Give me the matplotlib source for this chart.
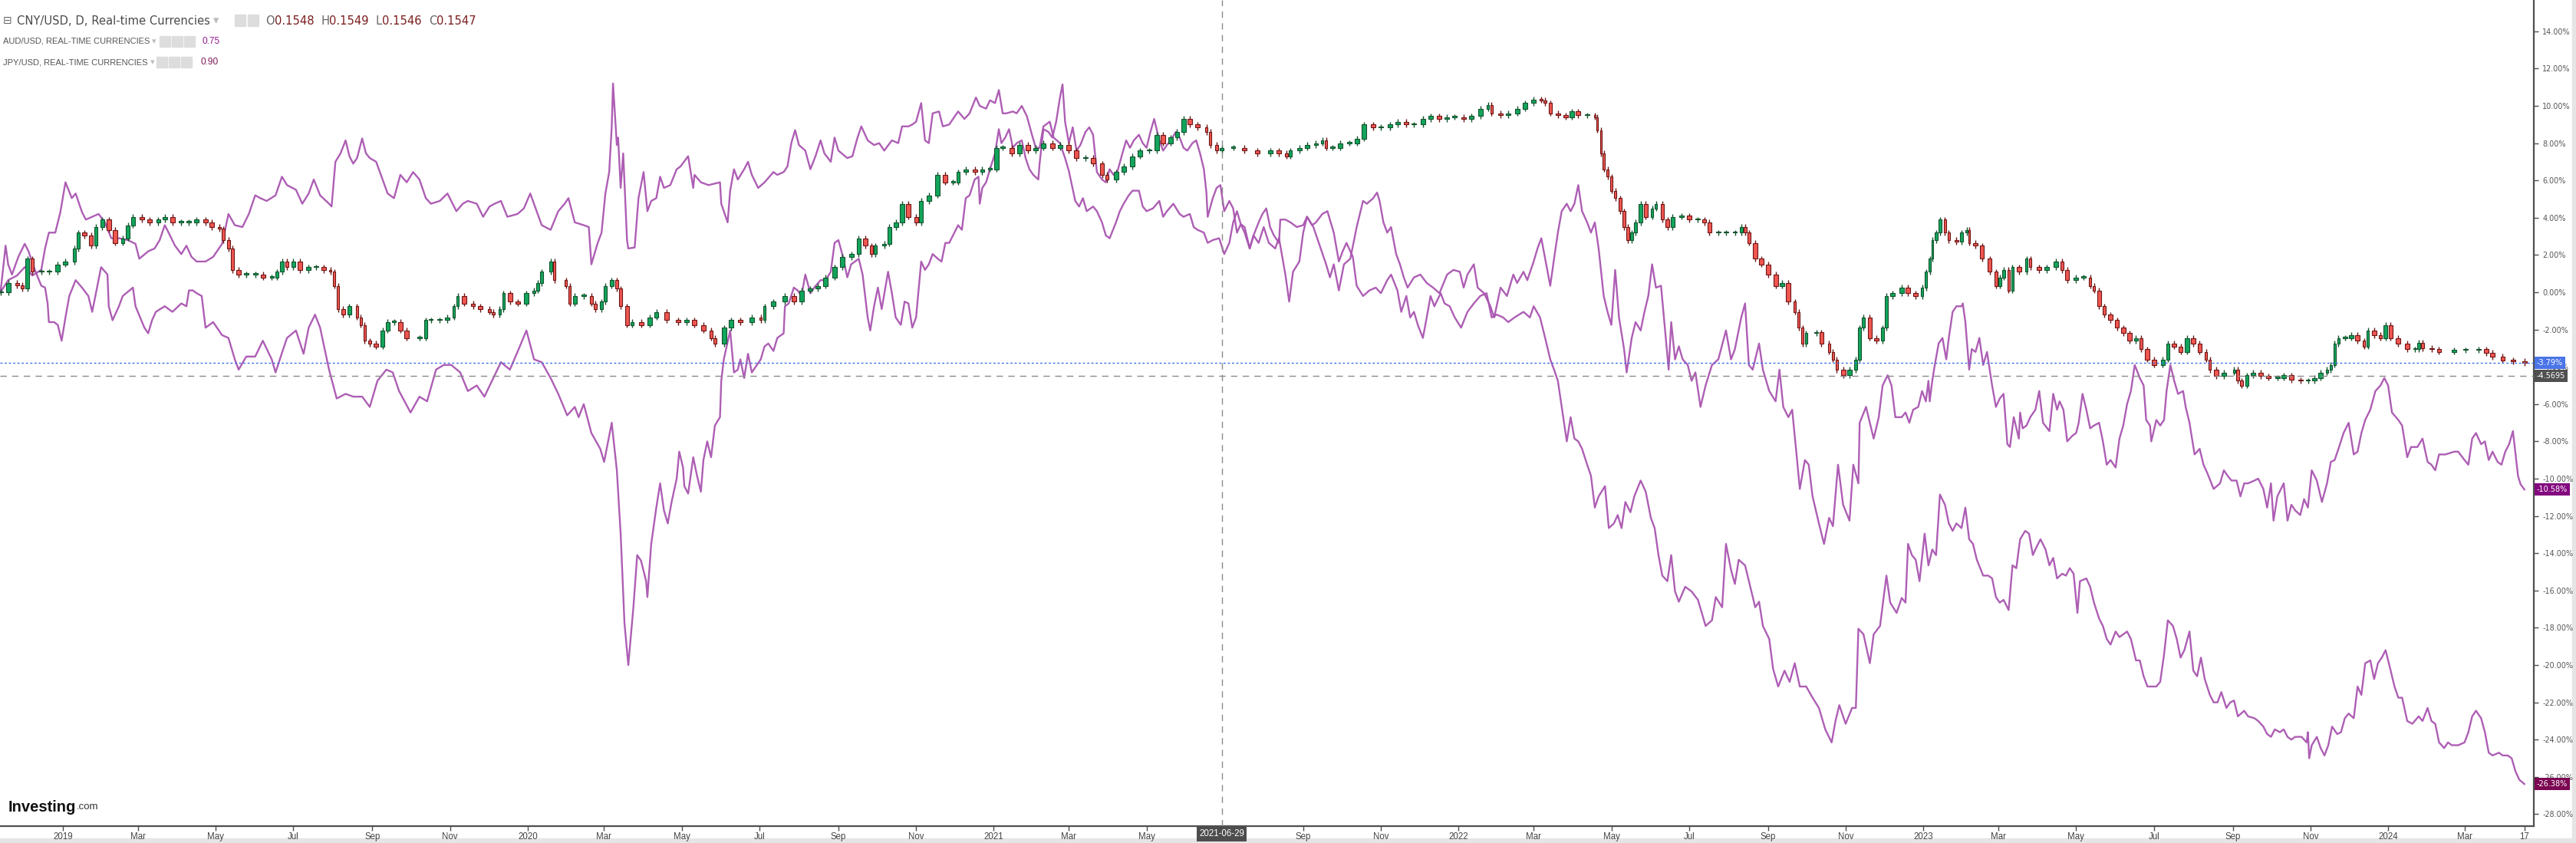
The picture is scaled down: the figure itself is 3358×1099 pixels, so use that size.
import matplotlib
matplotlib.use("Agg")
import matplotlib.pyplot as plt
import matplotlib.transforms as mtransforms
from matplotlib.patches import Rectangle
import numpy as np
import pandas as pd

W, H = 3358, 1099
BASE = pd.Timestamp("2019-01-01")

# % change since first bar, as (days since 2019-01-01, percent)
CNY = [(-49, 0.0), (-43, 0.5), (-36, 0.37), (-32, 0.2), (-28, 1.8), (-24, 1.1), (-17, 1.1), (-11, 1.1), (-4, 1.5),
       (2, 1.65), (9, 2.35), (12, 3.2), (17, 3.05), (22, 2.5), (26, 3.5), (31, 3.9), (36, 3.35), (41, 2.65), (47, 2.9),
       (51, 3.6), (55, 4.05), (62, 3.9), (68, 3.75), (75, 3.9), (80, 4.05), (86, 3.75), (93, 3.75), (99, 3.75),
       (105, 3.9), (112, 3.75), (117, 3.5), (123, 3.4), (126, 2.8), (130, 2.35), (133, 1.2), (138, 0.95), (144, 0.95),
       (151, 0.95), (157, 0.8), (164, 0.8), (168, 1.1), (172, 1.65), (176, 1.35), (181, 1.65), (186, 1.2), (193, 1.35),
       (199, 1.35), (205, 1.2), (210, 1.1), (213, 0.35), (216, -0.9), (220, -1.2), (225, -0.75), (231, -1.35),
       (234, -1.75), (237, -2.6), (241, -2.75), (246, -2.9), (251, -2.05), (255, -1.6), (260, -1.6), (265, -2.05),
       (270, -2.45), (280, -2.45), (285, -1.5), (289, -1.5), (296, -1.5), (302, -1.35), (307, -0.75), (310, -0.2),
       (315, -0.6), (322, -0.75), (328, -0.9), (335, -1.05), (338, -1.2), (343, -0.9), (346, -0.05), (351, -0.5),
       (357, -0.6), (364, -0.05), (370, 0.1), (373, 0.5), (376, 1.1), (383, 1.65), (386, 0.65), (395, 0.35),
       (398, -0.6), (402, -0.2), (409, -0.2), (415, -0.6), (418, -0.9), (423, -0.5), (426, 0.35), (431, 0.65),
       (435, 0.2), (438, -0.75), (443, -1.75), (447, -1.6), (454, -1.75), (461, -1.35), (466, -1.05), (474, -1.5),
       (483, -1.6), (490, -1.5), (496, -1.75), (503, -2.05), (509, -2.45), (512, -2.75), (519, -1.9), (525, -1.5),
       (532, -1.6), (541, -1.35), (548, -1.5), (551, -0.75), (558, -0.5), (567, -0.2), (574, -0.5), (580, 0.1),
       (587, 0.2), (593, 0.35), (599, 0.8), (606, 1.35), (612, 1.9), (619, 2.05), (625, 2.9), (630, 2.5), (635, 2.05),
       (638, 2.5), (645, 2.6), (649, 3.5), (654, 3.75), (659, 4.75), (664, 4.05), (670, 3.75), (674, 4.9), (680, 5.2),
       (687, 6.3), (693, 5.9), (699, 5.9), (703, 6.45), (709, 6.6), (716, 6.45), (722, 6.6), (728, 6.6), (733, 7.75),
       (738, 7.75), (745, 7.45), (751, 7.9), (758, 7.6), (764, 7.75), (770, 8.0), (777, 7.75), (783, 7.9), (790, 7.6),
       (796, 7.2), (803, 7.2), (809, 6.9), (816, 6.3), (820, 6.05), (827, 6.45), (833, 6.75), (840, 7.3), (846, 7.6),
       (853, 7.6), (859, 8.45), (864, 8.0), (870, 8.3), (875, 8.6), (880, 9.3), (885, 9.0), (891, 8.85), (898, 8.6),
       (901, 7.9), (906, 7.6), (910, 7.75), (919, 7.75), (928, 7.6), (938, 7.45), (948, 7.6), (955, 7.45), (961, 7.3),
       (964, 7.6), (971, 7.75), (977, 7.9), (984, 8.0), (989, 8.15), (992, 7.75), (997, 7.75), (1003, 8.0),
       (1010, 8.0), (1016, 8.25), (1022, 9.0), (1029, 8.85), (1035, 8.85), (1042, 9.0), (1048, 9.15), (1055, 9.0),
       (1061, 9.0), (1068, 9.3), (1074, 9.45), (1081, 9.3), (1087, 9.4), (1093, 9.4), (1100, 9.3), (1106, 9.45),
       (1113, 9.85), (1119, 10.05), (1122, 9.6), (1129, 9.5), (1135, 9.6), (1142, 9.85), (1148, 10.15), (1155, 10.35),
       (1161, 10.3), (1164, 10.15), (1168, 9.6), (1174, 9.5), (1180, 9.4), (1185, 9.7), (1190, 9.5), (1197, 9.5),
       (1203, 9.4), (1205, 8.7), (1208, 7.45), (1210, 6.6), (1213, 6.2), (1216, 5.45), (1219, 5.05), (1223, 4.35),
       (1226, 3.5), (1229, 2.8), (1232, 3.2), (1235, 3.75), (1239, 4.75), (1243, 4.05), (1248, 4.5), (1251, 4.75),
       (1256, 3.9), (1260, 3.5), (1264, 4.05), (1271, 4.1), (1277, 3.9), (1284, 3.9), (1289, 3.75), (1293, 3.2),
       (1300, 3.2), (1306, 3.2), (1313, 3.2), (1318, 3.5), (1321, 3.2), (1324, 2.65), (1329, 1.8), (1334, 1.5),
       (1339, 0.95), (1345, 0.35), (1350, 0.5), (1355, -0.5), (1360, -1.05), (1363, -1.9), (1366, -2.75),
       (1369, -2.2), (1377, -2.15), (1381, -2.75), (1387, -3.2), (1390, -3.6), (1393, -4.15), (1398, -4.45),
       (1403, -4.15), (1408, -3.6), (1411, -1.9), (1414, -1.35), (1419, -2.45), (1424, -2.6), (1429, -1.9),
       (1432, -0.2), (1437, -0.05), (1444, 0.25), (1449, -0.05), (1455, -0.2), (1460, 0.25), (1463, 1.1), (1466, 1.8),
       (1468, 2.8), (1471, 3.2), (1474, 3.9), (1478, 3.2), (1481, 2.8), (1487, 2.7), (1491, 3.2), (1495, 3.35),
       (1497, 2.65), (1502, 2.5), (1507, 1.8), (1513, 1.1), (1518, 0.35), (1521, 0.8), (1524, 1.2), (1528, 0.1),
       (1531, 1.35), (1536, 1.1), (1542, 1.8), (1545, 1.35), (1552, 1.2), (1558, 1.35), (1565, 1.65), (1570, 1.2),
       (1574, 0.65), (1581, 0.8), (1587, 0.8), (1592, 0.35), (1595, 0.1), (1599, -0.75), (1603, -1.2), (1608, -1.5),
       (1613, -1.9), (1618, -2.2), (1623, -2.6), (1628, -2.45), (1632, -3.05), (1637, -3.6), (1642, -3.9),
       (1649, -3.6), (1653, -2.75), (1658, -2.9), (1663, -3.2), (1668, -2.45), (1673, -2.75), (1678, -3.2),
       (1683, -3.6), (1686, -4.15), (1691, -4.5), (1697, -4.3), (1705, -4.15), (1708, -4.75), (1711, -5.0),
       (1715, -4.45), (1720, -4.3), (1726, -4.5), (1732, -4.6), (1739, -4.6), (1744, -4.45), (1750, -4.7),
       (1757, -4.75), (1763, -4.75), (1768, -4.6), (1773, -4.3), (1778, -4.15), (1781, -3.9), (1784, -2.75),
       (1787, -2.45), (1792, -2.45), (1797, -2.3), (1802, -2.6), (1807, -2.9), (1810, -2.05), (1815, -2.3),
       (1820, -2.45), (1824, -1.75), (1828, -2.45), (1834, -2.75), (1841, -3.05), (1847, -3.05), (1850, -2.7),
       (1853, -3.0), (1860, -3.05), (1866, -3.2), (1878, -3.1), (1887, -3.1), (1897, -3.05), (1903, -3.25),
       (1908, -3.45), (1916, -3.65), (1924, -3.7), (1933, -3.79)]

AUD = [(-49, 0.0), (-45, 2.5), (-43, 1.5), (-40, 0.95), (-35, 1.9), (-30, 2.6), (-27, 2.2), (-22, 1.2), (-17, 0.35),
       (-14, 0.25), (-12, -0.6), (-11, -1.6), (-7, -1.6), (-4, -1.75), (-1, -2.6), (2, -1.35), (5, -0.2), (10, 0.65),
       (15, 0.25), (20, -0.2), (23, -1.05), (30, 1.35), (35, 0.95), (36, -0.75), (39, -1.5), (44, -0.75), (47, -0.2),
       (55, 0.25), (57, -0.75), (64, -1.9), (67, -2.2), (70, -1.5), (73, -1.05), (80, -0.75), (86, -1.05), (93, -0.6),
       (97, -0.75), (99, 0.1), (102, 0.1), (105, -0.05), (109, -0.2), (112, -1.9), (118, -1.6), (125, -2.3),
       (130, -2.45), (135, -3.6), (138, -4.15), (144, -3.45), (151, -3.45), (157, -2.6), (164, -3.6), (167, -4.3),
       (173, -3.05), (176, -2.45), (183, -2.05), (189, -3.3), (193, -1.9), (198, -1.2), (202, -1.9), (209, -4.15),
       (215, -5.7), (222, -5.45), (228, -5.6), (235, -5.6), (241, -6.15), (247, -4.75), (254, -4.15), (259, -4.3),
       (264, -5.3), (273, -6.45), (280, -5.6), (286, -5.85), (293, -4.15), (299, -3.9), (305, -3.9), (312, -4.3),
       (318, -5.3), (325, -5.0), (331, -5.6), (338, -4.6), (344, -3.75), (351, -4.15), (357, -3.2), (364, -2.05),
       (370, -3.6), (376, -3.75), (383, -4.6), (389, -5.45), (396, -6.6), (402, -6.15), (405, -6.7), (409, -6.0),
       (415, -7.55), (422, -8.4), (425, -9.1), (431, -7.0), (435, -9.55), (438, -12.95), (441, -17.75), (444, -20.0),
       (448, -16.9), (451, -14.1), (454, -14.4), (458, -15.5), (459, -16.35), (462, -13.5), (466, -11.55),
       (469, -10.25), (472, -11.7), (475, -12.4), (478, -11.25), (482, -10.0), (484, -8.55), (487, -9.4), (488, -10.4),
       (491, -10.8), (495, -8.85), (498, -9.85), (501, -10.7), (503, -9.0), (506, -8.0), (509, -8.85), (512, -7.15),
       (516, -6.7), (517, -4.75), (519, -3.6), (524, -2.05), (527, -4.3), (530, -4.15), (532, -3.6), (535, -4.6),
       (538, -3.3), (541, -4.3), (548, -3.6), (551, -2.9), (554, -2.75), (558, -3.15), (561, -2.45), (566, -2.2),
       (567, -0.75), (570, -0.6), (574, 0.25), (577, 0.1), (580, -0.2), (583, 0.95), (587, -0.05), (590, 0.25),
       (595, 0.65), (599, 0.65), (603, 1.1), (606, 2.65), (609, 2.8), (612, 2.05), (616, 0.8), (619, 1.5), (622, 1.65),
       (625, 1.8), (628, 0.95), (632, -1.35), (634, -2.05), (637, -0.75), (640, 0.25), (643, -0.9), (648, 1.1),
       (651, -0.05), (654, -1.35), (658, -1.75), (661, -0.5), (664, -0.6), (667, -1.9), (670, -1.35), (674, 1.65),
       (677, 1.2), (680, 1.5), (683, 2.05), (687, 1.8), (690, 1.65), (693, 2.65), (696, 2.65), (699, 3.05), (703, 3.6),
       (706, 3.35), (709, 5.05), (712, 5.2), (716, 6.05), (719, 6.2), (720, 4.75), (722, 5.6), (725, 5.9), (728, 6.6),
       (732, 7.45), (735, 8.75), (737, 8.0), (740, 8.3), (743, 8.75), (746, 7.75), (749, 8.0), (753, 8.15), (756, 7.2),
       (759, 6.6), (762, 6.3), (766, 6.05), (767, 6.9), (770, 8.75), (774, 8.6), (777, 8.3), (780, 9.15), (783, 10.45),
       (785, 11.15), (787, 9.15), (790, 8.0), (793, 8.85), (796, 7.6), (799, 7.9), (803, 8.6), (806, 8.85), (809, 8.45),
       (812, 6.45), (816, 6.05), (819, 5.9), (822, 6.6), (825, 6.3), (828, 6.45), (832, 7.45), (835, 8.15), (838, 7.75),
       (841, 8.15), (845, 8.45), (848, 8.0), (851, 7.75), (854, 8.6), (857, 9.3), (861, 8.15), (864, 7.6), (867, 7.9),
       (870, 8.15), (874, 8.6), (877, 8.3), (880, 7.75), (883, 7.6), (887, 8.0), (890, 8.15), (893, 7.45), (896, 6.6),
       (898, 5.35), (899, 4.05), (903, 5.05), (906, 5.6), (909, 5.75), (912, 4.35), (916, 4.9), (919, 4.5), (922, 3.2),
       (925, 3.65), (928, 3.2), (932, 2.35), (935, 3.05), (939, 2.65), (943, 3.5), (947, 2.65), (952, 2.35), (955, 2.9),
       (960, 0.95), (963, -0.5), (966, 1.1), (971, 1.65), (974, 3.2), (977, 4.05), (982, 3.5), (987, 2.5), (992, 1.5),
       (995, 0.8), (998, 1.5), (1002, 0.1), (1006, 1.5), (1011, 1.8), (1016, 3.5), (1021, 4.9), (1024, 4.75),
       (1029, 5.05), (1032, 5.35), (1034, 4.9), (1037, 3.75), (1040, 3.2), (1043, 3.5), (1047, 2.05), (1050, 1.5),
       (1053, 0.8), (1056, 0.25), (1061, 0.8), (1066, 0.95), (1071, 0.5), (1076, 0.25), (1081, -0.05), (1087, 0.95),
       (1092, 1.2), (1097, 1.1), (1100, 0.25), (1103, 0.95), (1108, 1.5), (1111, 0.25), (1116, -0.05), (1121, -0.75),
       (1124, -1.35), (1129, 0.25), (1134, -0.2), (1139, 0.95), (1142, 0.5), (1147, 1.1), (1150, 0.65), (1155, 1.65),
       (1158, 2.35), (1161, 2.9), (1164, 1.8), (1168, 0.35), (1171, 1.8), (1174, 3.2), (1177, 4.35), (1181, 4.75),
       (1184, 4.35), (1187, 4.75), (1190, 5.75), (1193, 4.35), (1197, 3.75), (1200, 3.2), (1203, 3.75), (1206, 2.35),
       (1210, -0.2), (1213, -1.05), (1216, -1.75), (1219, 1.2), (1222, -1.35), (1226, -3.05), (1228, -4.3),
       (1232, -2.45), (1235, -1.6), (1239, -2.05), (1242, -1.05), (1245, -0.2), (1248, 1.5), (1251, 0.25),
       (1255, 0.35), (1258, -1.9), (1261, -4.15), (1263, -1.6), (1266, -3.6), (1269, -2.9), (1272, -3.6),
       (1276, -3.9), (1279, -4.75), (1282, -4.3), (1286, -6.15), (1290, -5.0), (1295, -3.9), (1300, -3.6),
       (1306, -2.05), (1310, -3.6), (1313, -3.05), (1318, -1.35), (1321, -0.6), (1324, -3.9), (1327, -4.15),
       (1332, -2.75), (1335, -4.15), (1340, -5.3), (1345, -5.85), (1348, -4.15), (1351, -6.15), (1355, -6.7),
       (1358, -6.3), (1361, -8.4), (1364, -10.55), (1368, -9.0), (1371, -9.25), (1374, -10.95), (1379, -12.4),
       (1383, -13.5), (1387, -12.1), (1390, -12.55), (1394, -9.25), (1398, -11.4), (1403, -12.25), (1406, -9.25),
       (1410, -10.25), (1411, -7.0), (1416, -6.15), (1419, -7.0), (1422, -7.85), (1426, -6.7), (1429, -5.0),
       (1433, -4.45), (1436, -5.0), (1439, -6.7), (1444, -6.7), (1447, -6.45), (1450, -7.0), (1453, -6.3),
       (1457, -6.15), (1460, -5.3), (1463, -5.85), (1465, -4.75), (1466, -5.85), (1468, -4.75), (1470, -3.9),
       (1473, -2.75), (1476, -2.45), (1479, -3.6), (1481, -2.45), (1484, -1.05), (1487, -0.75), (1491, -0.75),
       (1492, -0.6), (1494, -1.6), (1497, -4.15), (1499, -3.05), (1502, -3.2), (1505, -2.45), (1508, -3.9),
       (1511, -3.2), (1515, -5.0), (1518, -6.15), (1521, -5.7), (1524, -5.45), (1527, -8.15), (1529, -8.3),
       (1532, -6.7), (1536, -7.85), (1537, -6.45), (1539, -7.3), (1542, -7.15), (1545, -6.7), (1549, -6.3),
       (1552, -5.3), (1555, -7.0), (1560, -7.45), (1563, -5.45), (1566, -6.3), (1568, -5.85), (1571, -6.3),
       (1574, -8.0), (1578, -7.7), (1581, -7.55), (1583, -7.0), (1586, -5.45), (1589, -6.3), (1592, -7.3),
       (1595, -7.15), (1599, -7.0), (1602, -8.0), (1605, -9.25), (1608, -9.0), (1612, -9.4), (1615, -7.85),
       (1618, -7.15), (1621, -6.0), (1624, -5.3), (1627, -3.9), (1631, -4.6), (1634, -5.0), (1636, -6.85),
       (1639, -7.15), (1640, -8.0), (1644, -6.85), (1647, -7.15), (1650, -6.85), (1652, -5.3), (1655, -3.9),
       (1658, -4.75), (1661, -5.45), (1665, -5.3), (1667, -6.15), (1670, -7.0), (1674, -8.7), (1678, -8.4),
       (1681, -9.25), (1684, -9.7), (1689, -10.55), (1694, -10.25), (1697, -9.55), (1700, -9.85), (1703, -10.1),
       (1707, -10.1), (1710, -10.95), (1713, -10.25), (1716, -10.25), (1721, -10.1), (1724, -10.0), (1728, -10.55),
       (1731, -11.55), (1734, -10.25), (1736, -12.25), (1739, -10.95), (1744, -10.25), (1747, -12.25), (1750, -11.4),
       (1753, -11.7), (1757, -11.95), (1760, -11.1), (1763, -11.55), (1766, -9.55), (1770, -10.1), (1774, -11.25),
       (1778, -10.25), (1781, -9.1), (1784, -9.0), (1787, -8.4), (1791, -7.55), (1795, -7.0), (1799, -8.7),
       (1802, -8.55), (1805, -7.55), (1808, -6.85), (1812, -6.3), (1816, -5.3), (1820, -5.0), (1823, -4.6),
       (1826, -5.0), (1829, -6.45), (1834, -6.85), (1837, -7.15), (1841, -8.85), (1844, -8.3), (1849, -8.3),
       (1853, -7.85), (1857, -9.1), (1860, -9.25), (1863, -9.55), (1866, -8.7), (1871, -8.7), (1878, -8.55),
       (1881, -8.55), (1886, -9.0), (1889, -9.25), (1892, -7.85), (1895, -7.55), (1899, -8.15), (1902, -8.0),
       (1905, -9.0), (1908, -8.55), (1912, -9.1), (1915, -9.25), (1918, -8.55), (1921, -8.15), (1924, -7.45),
       (1928, -9.85), (1930, -10.3), (1933, -10.58)]

JPY = [(-49, 0.0), (-43, 0.65), (-36, 0.9), (-30, 1.35), (-24, 0.9), (-17, 1.2), (-14, 2.35), (-11, 3.2), (-6, 3.2),
       (-2, 4.3), (2, 5.9), (7, 5.05), (10, 5.3), (15, 4.3), (18, 3.9), (23, 4.05), (28, 4.2), (33, 3.75), (38, 2.9),
       (44, 2.9), (51, 2.8), (57, 2.6), (60, 1.8), (67, 2.2), (72, 2.35), (76, 2.8), (80, 3.6), (83, 3.2), (88, 2.5),
       (93, 2.05), (97, 2.5), (101, 1.9), (105, 1.65), (112, 1.65), (118, 1.9), (125, 2.6), (130, 4.2), (135, 3.6),
       (141, 3.5), (146, 4.2), (151, 5.2), (155, 5.05), (160, 4.9), (167, 5.2), (172, 6.2), (176, 5.75), (183, 5.5),
       (188, 4.75), (193, 5.3), (197, 6.05), (202, 5.2), (209, 4.75), (211, 4.6), (214, 7.0), (218, 7.45), (222, 8.15),
       (225, 7.3), (228, 6.9), (231, 7.2), (235, 8.25), (238, 7.45), (241, 7.2), (246, 7.0), (251, 6.05), (255, 5.3),
       (260, 5.05), (265, 6.3), (270, 5.9), (275, 6.45), (280, 6.05), (285, 5.05), (289, 4.75), (296, 4.9), (302, 5.3),
       (309, 4.35), (314, 4.75), (318, 4.9), (325, 4.75), (330, 4.05), (335, 4.6), (339, 4.75), (344, 4.9), (349, 4.05),
       (357, 4.2), (362, 4.5), (367, 5.3), (372, 4.35), (376, 3.6), (383, 3.35), (389, 4.35), (394, 4.75), (397, 5.05),
       (402, 3.75), (409, 3.6), (413, 3.5), (415, 1.5), (420, 2.65), (423, 3.2), (426, 5.3), (429, 6.45), (431, 8.9),
       (432, 11.2), (435, 7.9), (436, 8.3), (438, 5.6), (440, 7.45), (443, 2.8), (444, 2.35), (449, 2.4), (452, 5.05),
       (456, 6.45), (459, 4.35), (462, 4.9), (466, 5.05), (469, 6.2), (472, 5.6), (477, 5.75), (482, 6.6), (485, 6.75),
       (491, 7.3), (495, 5.6), (496, 6.3), (501, 5.9), (507, 5.75), (516, 5.9), (517, 4.75), (522, 3.75), (524, 5.45),
       (527, 6.6), (530, 6.05), (535, 6.6), (538, 7.0), (541, 6.3), (546, 5.6), (551, 5.9), (558, 6.45), (561, 6.3),
       (566, 6.45), (569, 6.75), (572, 8.0), (575, 8.7), (578, 7.9), (583, 7.6), (587, 6.6), (591, 7.3), (595, 8.15),
       (598, 7.45), (603, 7.0), (606, 8.3), (609, 7.6), (616, 7.2), (620, 7.3), (624, 8.3), (627, 8.9), (632, 8.15),
       (637, 7.9), (641, 8.0), (645, 7.6), (651, 8.15), (656, 8.0), (659, 8.9), (664, 8.9), (667, 9.0), (670, 9.15),
       (674, 10.15), (677, 8.15), (680, 8.0), (683, 9.6), (688, 9.7), (691, 8.9), (696, 9.0), (699, 9.3), (703, 9.7),
       (708, 9.3), (712, 9.6), (717, 10.45), (720, 10.0), (725, 9.85), (728, 10.3), (732, 10.15), (735, 10.85),
       (738, 9.6), (741, 9.6), (746, 9.7), (749, 9.6), (753, 10.0), (757, 9.45), (761, 8.45), (764, 7.75), (767, 7.75),
       (770, 8.9), (775, 9.15), (778, 8.3), (783, 8.0), (787, 7.2), (790, 6.5), (795, 4.9), (798, 4.6), (801, 5.05),
       (804, 4.35), (809, 4.6), (812, 4.35), (816, 3.75), (819, 3.05), (822, 2.9), (827, 3.75), (830, 4.35),
       (833, 4.75), (837, 5.2), (840, 5.45), (845, 5.45), (848, 4.6), (851, 4.35), (856, 4.5), (861, 4.9), (864, 4.05),
       (867, 4.35), (872, 4.75), (877, 4.2), (880, 4.05), (885, 4.2), (888, 3.5), (891, 3.35), (896, 3.2), (899, 2.65),
       (903, 2.8), (908, 2.9), (912, 2.05), (916, 2.65), (919, 3.75), (922, 4.35), (925, 3.65), (928, 3.5), (932, 2.35),
       (935, 3.05), (939, 3.75), (942, 4.2), (945, 4.5), (948, 3.5), (951, 3.05), (955, 2.65), (956, 3.9), (960, 3.9),
       (964, 3.75), (969, 3.5), (974, 3.6), (977, 4.05), (981, 3.6), (984, 3.75), (989, 4.2), (993, 4.35), (998, 3.2),
       (1002, 1.65), (1005, 2.2), (1008, 2.65), (1010, 2.35), (1013, 1.9), (1016, 0.35), (1021, -0.2), (1026, 0.1),
       (1031, 0.25), (1035, -0.05), (1040, 0.65), (1043, 0.95), (1048, 0.1), (1051, -1.05), (1055, -0.2),
       (1058, -1.35), (1061, -1.05), (1064, -1.75), (1068, -2.45), (1071, -1.35), (1074, -0.2), (1077, -0.75),
       (1082, -0.05), (1085, -0.6), (1089, -0.75), (1093, -1.35), (1098, -1.9), (1103, -1.05), (1108, -0.6),
       (1113, -0.2), (1118, -0.05), (1122, -1.35), (1126, -1.2), (1131, -1.35), (1135, -1.6), (1140, -1.35),
       (1147, -1.05), (1152, -1.35), (1155, -0.75), (1160, -1.35), (1164, -2.45), (1168, -3.6), (1171, -4.15),
       (1174, -4.75), (1177, -6.15), (1181, -8.0), (1184, -6.7), (1187, -7.85), (1190, -8.0), (1193, -8.4),
       (1197, -9.25), (1200, -9.85), (1203, -11.55), (1206, -10.95), (1211, -10.4), (1214, -12.65), (1218, -12.4),
       (1221, -11.95), (1224, -12.65), (1227, -11.25), (1231, -11.8), (1234, -10.95), (1239, -10.1), (1243, -10.7),
       (1247, -12.1), (1250, -12.65), (1253, -14.1), (1256, -15.2), (1260, -15.5), (1263, -14.1), (1266, -16.05),
       (1269, -16.6), (1274, -15.8), (1279, -16.05), (1284, -16.5), (1287, -17.2), (1290, -17.9), (1295, -17.6),
       (1298, -16.35), (1303, -16.9), (1306, -13.5), (1310, -14.9), (1313, -15.65), (1316, -14.35), (1321, -14.65),
       (1326, -16.05), (1329, -16.9), (1332, -16.6), (1335, -17.9), (1340, -18.6), (1343, -20.2), (1347, -21.15),
       (1352, -20.3), (1356, -20.9), (1360, -19.9), (1364, -21.15), (1369, -21.15), (1374, -21.75), (1379, -22.3),
       (1384, -23.45), (1389, -24.15), (1392, -23.0), (1395, -22.15), (1400, -23.15), (1405, -22.3), (1408, -22.3),
       (1410, -18.05), (1414, -18.35), (1419, -19.9), (1422, -18.35), (1427, -17.9), (1432, -15.2), (1435, -16.65),
       (1440, -17.2), (1444, -16.4), (1447, -16.65), (1449, -13.5), (1452, -14.1), (1455, -14.35), (1458, -15.5),
       (1462, -12.95), (1465, -14.65), (1468, -13.8), (1471, -14.1), (1474, -10.85), (1478, -11.4), (1481, -12.4),
       (1484, -12.8), (1487, -12.4), (1491, -12.65), (1494, -11.55), (1497, -13.25), (1500, -13.5), (1503, -14.35),
       (1508, -15.2), (1512, -15.2), (1515, -15.35), (1518, -16.35), (1521, -16.65), (1524, -16.5), (1528, -17.05),
       (1531, -14.65), (1534, -14.8), (1537, -13.25), (1541, -12.8), (1544, -12.95), (1547, -14.1), (1550, -13.65),
       (1553, -13.25), (1557, -13.8), (1560, -14.65), (1563, -14.25), (1566, -15.35), (1570, -15.1), (1573, -15.2),
       (1576, -14.8), (1579, -15.1), (1582, -17.2), (1584, -15.5), (1589, -15.35), (1592, -15.8), (1595, -16.65),
       (1599, -17.5), (1602, -17.9), (1605, -18.6), (1608, -18.9), (1612, -18.2), (1615, -18.5), (1618, -18.35),
       (1621, -18.2), (1624, -18.6), (1628, -19.75), (1631, -19.75), (1634, -20.6), (1637, -21.15), (1641, -21.15),
       (1644, -21.15), (1647, -20.9), (1650, -19.45), (1653, -17.6), (1657, -17.9), (1660, -18.6), (1663, -19.6),
       (1666, -19.2), (1670, -18.2), (1673, -20.3), (1676, -20.6), (1679, -19.6), (1682, -20.75), (1686, -21.6),
       (1689, -22.0), (1692, -22.0), (1695, -21.45), (1699, -22.3), (1702, -22.0), (1705, -21.9), (1708, -22.75),
       (1713, -22.45), (1716, -22.75), (1721, -22.85), (1724, -23.0), (1728, -23.3), (1731, -23.7), (1734, -23.85),
       (1737, -23.45), (1741, -23.6), (1744, -23.45), (1747, -23.85), (1750, -24.0), (1753, -23.85), (1758, -23.85),
       (1762, -24.15), (1763, -23.6), (1764, -25.0), (1766, -24.3), (1770, -23.85), (1773, -24.45), (1776, -24.85),
       (1779, -24.3), (1782, -23.3), (1786, -23.7), (1789, -23.6), (1792, -22.85), (1795, -22.6), (1799, -22.85),
       (1802, -21.15), (1805, -21.6), (1808, -19.9), (1812, -19.75), (1815, -20.75), (1818, -19.9), (1821, -19.6),
       (1824, -19.2), (1828, -20.3), (1831, -21.15), (1834, -21.75), (1837, -21.75), (1841, -23.0), (1845, -23.15),
       (1850, -22.75), (1853, -23.0), (1857, -22.3), (1860, -23.0), (1863, -23.15), (1866, -24.15), (1870, -24.45),
       (1873, -24.15), (1876, -24.3), (1881, -24.3), (1886, -24.15), (1889, -23.6), (1892, -22.75), (1895, -22.45),
       (1899, -22.85), (1902, -23.6), (1905, -24.7), (1908, -24.85), (1913, -24.7), (1916, -24.85), (1920, -24.85),
       (1923, -25.0), (1926, -25.7), (1929, -26.15), (1933, -26.38)]

X_TICK_DATES = ["2019-01-01", "2019-03-01", "2019-05-01", "2019-07-01", "2019-09-01", "2019-11-01",
                "2020-01-01", "2020-03-01", "2020-05-01", "2020-07-01", "2020-09-01", "2020-11-01",
                "2021-01-01", "2021-03-01", "2021-05-01", "2021-09-01", "2021-11-01",
                "2022-01-01", "2022-03-01", "2022-05-01", "2022-07-01", "2022-09-01", "2022-11-01",
                "2023-01-01", "2023-03-01", "2023-05-01", "2023-07-01", "2023-09-01", "2023-11-01",
                "2024-01-01", "2024-03-01", "2024-04-17"]
X_TICK_LABELS = ["2019", "Mar", "May", "Jul", "Sep", "Nov", "2020", "Mar", "May", "Jul", "Sep", "Nov",
                 "2021", "Mar", "May", "Sep", "Nov", "2022", "Mar", "May", "Jul", "Sep", "Nov",
                 "2023", "Mar", "May", "Jul", "Sep", "Nov", "2024", "Mar", "17"]
Y_TICKS = list(range(-28, 15, 2))

CROSS_DATE = "2021-06-29"
CROSS_Y = -4.49
CROSS_Y_LABEL = "-4.5695"

UP, UP_EDGE = "#12a55c", "#14532d"
DOWN, DOWN_EDGE = "#f05650", "#6e1515"
PURPLE = "#a955b0"
AXIS_GREY = "#4f4f4f"
NARROW = ["Liberation Sans Narrow", "Liberation Sans", "DejaVu Sans"]

plt.rcParams["axes.unicode_minus"] = False


def to_days(s):
    return (pd.Timestamp(s) - BASE).days


fig = plt.figure(figsize=(W / 100, H / 100), dpi=100)
ax = fig.add_axes([0, 22 / H, 3303 / W, 1 - 22 / H])
ax.set_xlim(-49.4, 1940.4)
ax.set_ylim(-28.64, 15.68)

# purple comparison lines
for series in (AUD, JPY):
    d = [p[0] for p in series]
    v = [p[1] for p in series]
    ax.plot(d, v, color=PURPLE, lw=1.7, alpha=0.95, zorder=2, solid_joinstyle="round")

# CNY candles (open = previous close)
cd = np.array([p[0] for p in CNY], dtype=float)
cc = np.array([p[1] for p in CNY])
co = np.r_[cc[0], cc[:-1]]
gaps = np.diff(cd)
width = np.minimum(np.minimum(np.r_[gaps[0], gaps], np.r_[gaps, gaps[-1]]) * 0.7, 3.6)
up = cc >= co
lo = np.minimum(co, cc)
hi = np.maximum(co, cc)
body = np.maximum(hi - lo, 0.06)
edge = np.where(up, UP_EDGE, DOWN_EDGE)
ax.vlines(cd, lo - 0.15, hi + 0.15, colors=edge, lw=1.0, zorder=3)
ax.bar(cd, body, bottom=lo, width=width, color=np.where(up, UP, DOWN), edgecolor=edge, lw=0.8, zorder=4)

# price line of last CNY value and crosshair
ax.axhline(CNY[-1][1], color="#3b6fe6", lw=1.0, ls=(0, (2, 2)), zorder=5)
ax.axhline(CROSS_Y, color="#8a8a8a", lw=1.0, ls=(0, (6, 5)), zorder=5)
ax.axvline(to_days(CROSS_DATE), color="#8a8a8a", lw=1.0, ls=(0, (6, 5)), zorder=5)

# axes styling
for s in ("top", "left"):
    ax.spines[s].set_visible(False)
for s in ("right", "bottom"):
    ax.spines[s].set_color(AXIS_GREY)
    ax.spines[s].set_linewidth(1.6)
ax.yaxis.tick_right()
ax.set_yticks(Y_TICKS)
ax.set_yticklabels([f"{v:.2f}%" for v in Y_TICKS])
ax.tick_params(axis="y", length=4, width=1, color=AXIS_GREY, labelsize=6.9, labelcolor="#555555", pad=4)
ax.set_xticks([to_days(s) for s in X_TICK_DATES])
ax.set_xticklabels(X_TICK_LABELS, fontfamily=NARROW)
ax.tick_params(axis="x", length=4, width=1, color=AXIS_GREY, labelsize=8.3, labelcolor="#444444", pad=2)

# value boxes on the right axis
ytr = mtransforms.blended_transform_factory(ax.transAxes, ax.transData)
boxes = [(CNY[-1][1], f"{CNY[-1][1]:.2f}%", "#4a74e8"), (CROSS_Y, CROSS_Y_LABEL, "#505050"),
         (AUD[-1][1], f"{AUD[-1][1]:.2f}%", "#84087f"), (JPY[-1][1], f"{JPY[-1][1]:.2f}%", "#7c0752")]
for yv, label, face in boxes:
    ax.text(1.0 + 4 / 3303, yv, label, transform=ytr, ha="left", va="center", color="white", fontsize=7,
            bbox=dict(boxstyle="square,pad=0.28", fc=face, ec="none"), clip_on=False, zorder=10)

xtr = mtransforms.blended_transform_factory(ax.transData, ax.transAxes)
ax.text(to_days(CROSS_DATE), -0.004, CROSS_DATE, transform=xtr, ha="center", va="top", color="white",
        fontsize=8.3, fontfamily=NARROW,
        bbox=dict(boxstyle="square,pad=0.3", fc="#4d4d4d", ec="none"), clip_on=False, zorder=10)

# bottom / right grey bands
fig.add_artist(Rectangle((0, 0), 1, 6 / H, transform=fig.transFigure, color="#e5e5e5", zorder=0))
fig.add_artist(Rectangle((3353 / W, 0), 5 / W, 1, transform=fig.transFigure, color="#e5e5e5", zorder=0))


def fy(px):
    return 1 - px / H


def chain(first, parts, size, family, y, weight="normal"):
    t = fig.text(first[1] / W, fy(y), first[0], color=first[2], fontsize=size, fontfamily=family,
                 va="center", fontweight=weight)
    for txt, col, gap, sz in parts:
        t = ax.annotate(txt, xy=(1, 0.5), xycoords=t, xytext=(gap, 0), textcoords="offset pixels",
                        color=col, fontsize=sz, fontfamily=family, va="center", ha="left",
                        annotation_clip=False)
    return t


# legend header
fig.text(4 / W, fy(27), "⊟", fontsize=10, color="#666666", va="center")
chain(("CNY/USD, D, Real-time Currencies", 22, "#4a4a4a"), [("▾", "#bbbbbb", 4, 10.6)], 10.6, "DejaVu Sans", 27)
for x0 in (306, 323):
    fig.add_artist(Rectangle((x0 / W, fy(34)), 14 / W, 15 / H, transform=fig.transFigure, color="#dddddd"))
chain(("O", 346, "#666666"), [("0.1548", "#7a1d1d", 0, 10.6), ("H", "#666666", 9, 10.6),
                              ("0.1549", "#7a1d1d", 0, 10.6), ("L", "#666666", 9, 10.6),
                              ("0.1546", "#7a1d1d", 0, 10.6), ("C", "#666666", 9, 10.6),
                              ("0.1547", "#7a1d1d", 0, 10.6)], 10.6, "DejaVu Sans", 27)

for y, name, val, vcol, xs, vx in [(54, "AUD/USD, REAL-TIME CURRENCIES", "0.75", "#8e1a8e", (208, 224, 240), 263),
                                   (81, "JPY/USD, REAL-TIME CURRENCIES", "0.90", "#7d1a55", (204, 220, 236), 261)]:
    chain((name, 4, "#555555"), [("▾", "#bbbbbb", 3, 8.0)], 8.0, NARROW, y)
    for x0 in xs:
        fig.add_artist(Rectangle((x0 / W, fy(y + 7)), 14 / W, 14 / H, transform=fig.transFigure, color="#dddddd"))
    fig.text(vx / W, fy(y), val, color=vcol, fontsize=8.6, fontfamily=NARROW, va="center")

# Investing.com logo
chain(("Investing", 11, "#111111"), [(".com", "#333333", 0, 9.5)], 14.5, NARROW, 1052, weight="bold")

fig.savefig("out.png", dpi=100, facecolor="white")
